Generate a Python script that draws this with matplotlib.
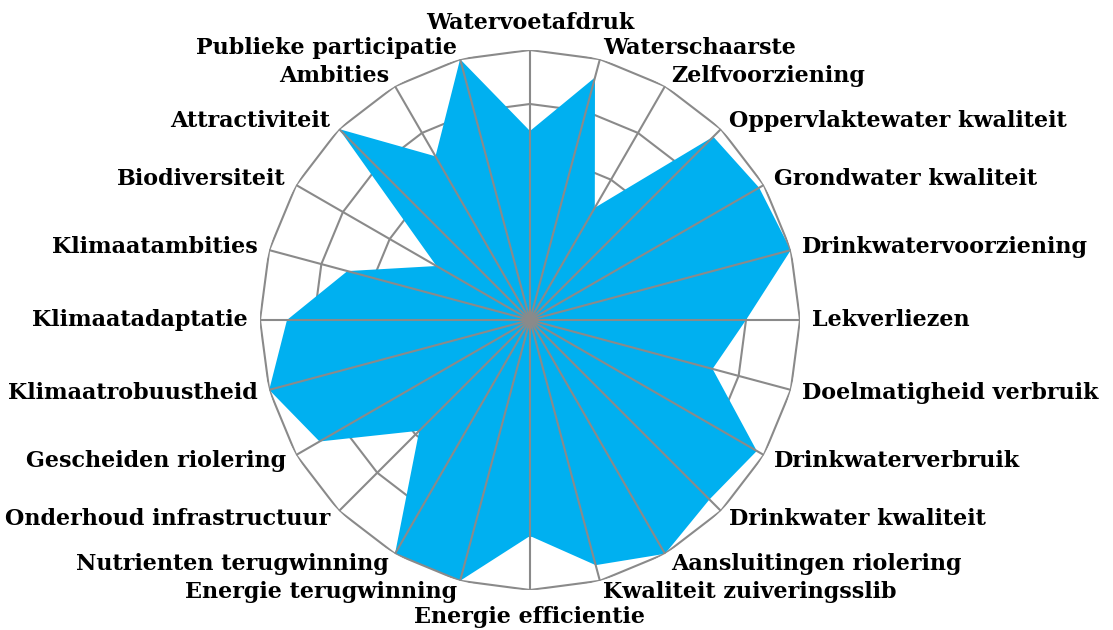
import numpy as np
import matplotlib
matplotlib.use("Agg")
import matplotlib.pyplot as plt
from matplotlib.transforms import offset_copy

categories = [
    "Watervoetafdruk", "Waterschaarste", "Zelfvoorziening",
    "Oppervlaktewater kwaliteit", "Grondwater kwaliteit", "Drinkwatervoorziening",
    "Lekverliezen", "Doelmatigheid verbruik", "Drinkwaterverbruik",
    "Drinkwater kwaliteit", "Aansluitingen riolering", "Kwaliteit zuiveringsslib",
    "Energie efficientie", "Energie terugwinning", "Nutrienten terugwinning",
    "Onderhoud infrastructuur", "Gescheiden riolering", "Klimaatrobuustheid",
    "Klimaatadaptatie", "Klimaatambities", "Biodiversiteit",
    "Attractiviteit", "Ambities", "Publieke participatie",
]
values = [3.5, 4.65, 2.4, 4.8, 4.9, 5.0, 4.0, 3.5, 4.85, 4.7, 5.0, 4.7,
          4.0, 5.0, 5.0, 2.9, 4.5, 5.0, 4.5, 3.5, 2.0, 5.0, 3.5, 5.0]
ring_levels = [1, 2, 3, 4, 5]

W, H = 1113, 630
fig = plt.figure(figsize=(W / 100, H / 100), dpi=100)
cx, cy, R = 530, 320, 270
ax = fig.add_axes([(cx - R) / W, (H - cy - R) / H, 2 * R / W, 2 * R / H],
                  projection="polar")
ax.set_theta_zero_location("N")
ax.set_theta_direction(-1)
ax.set_ylim(0, max(ring_levels))
ax.grid(False)
ax.spines["polar"].set_visible(False)
ax.set_xticks([])
ax.set_yticks([])
ax.patch.set_alpha(0)

n = len(categories)
angles = np.arange(n) * 2 * np.pi / n
closed_a = np.append(angles, angles[0])

grid_col = "#8a8a8a"
lw = 1.5
for lvl in ring_levels:
    z = 3 if lvl == max(ring_levels) else 1
    ax.plot(closed_a, [lvl] * (n + 1), color=grid_col, lw=lw, zorder=z,
            solid_joinstyle="miter")

vals_closed = np.append(values, values[0])
ax.fill(closed_a, vals_closed, color="#00B0F0", lw=0, zorder=2)

for a in angles:
    ax.plot([a, a], [0, max(ring_levels)], color=grid_col, lw=lw, zorder=3)

for a, lab in zip(angles, categories):
    s, c = np.sin(a), np.cos(a)
    if s > 0.01:
        ha = "left"
    elif s < -0.01:
        ha = "right"
    else:
        ha = "center"
    va = "center"
    d = 12
    if abs(s) <= 0.01:
        va = "bottom" if c > 0 else "top"
        d = 16
    off = d / 100 * 72
    tr = offset_copy(ax.transData, fig=fig, x=off * s, y=off * c, units="points")
    ax.text(a, max(ring_levels), lab, transform=tr, ha=ha, va=va,
            fontsize=16, fontweight="bold", family="DejaVu Serif",
            color="black", clip_on=False)

fig.savefig("out.png", dpi=100)
